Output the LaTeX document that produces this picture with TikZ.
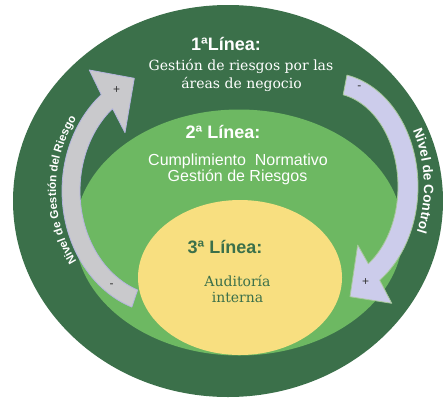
\documentclass[tikz,border=0pt]{standalone}
\usepackage{fontspec}
\setmainfont{DejaVu Serif}
\setsansfont{Liberation Sans}
\usetikzlibrary{decorations.text,shapes.geometric}
\definecolor{dkgreen}{HTML}{3B704A}
\definecolor{ltgreen}{HTML}{6DB862}
\definecolor{yel}{HTML}{F8DF80}
\definecolor{arrgray}{HTML}{C9C9CC}
\definecolor{arrgrayline}{HTML}{B4B4DE}
\definecolor{arrlav}{HTML}{CCCCEB}
\definecolor{arrlavline}{HTML}{A8C89C}
\definecolor{signc}{HTML}{333333}
\begin{document}
\begin{tikzpicture}[x=1pt,y=-1pt,
  oval/.style={ellipse, draw=none, inner sep=0pt},
  lbl/.style={inner sep=0pt, anchor=base},
  headf/.style={font=\sffamily\bfseries\fontsize{18}{20}\selectfont},
  serf/.style={font=\fontsize{14}{17}\selectfont},
  sansf/.style={font=\sffamily\fontsize{16}{18}\selectfont},
  sign/.style={font=\sffamily\fontsize{12}{12}\selectfont, text=signc, inner sep=0pt},
]
\useasboundingbox (0,0) rectangle (443,407);
% rings
\node[oval, fill=dkgreen, minimum width=430pt, minimum height=392pt] (outer) at (228,201) {};
\node[oval, fill=ltgreen, minimum width=328pt, minimum height=246pt] (middle) at (239,232.5) {};
\node[oval, fill=yel, minimum width=204pt, minimum height=155pt] (inner) at (240,277.5) {};
% left arrow (grey)
\filldraw[fill=arrgray, draw=arrgrayline, line width=0.8pt, line join=round]
  plot[domain=0:1, samples=60] ({166+104*cos(250.8-122.4*\x)}, {190.9-123*sin(250.8-122.4*\x)})
  -- (89.3,70) -- (134.3,78.3) -- (125,132.7)
  -- plot[domain=0:1, samples=60] ({166+86*cos(128.4+122.4*\x)}, {190.9-105*sin(128.4+122.4*\x)})
  -- cycle;
% right arrow (lavender)
\filldraw[fill=arrlav, draw=arrlavline, line width=0.8pt, line join=round]
  plot[domain=0:1, samples=60] ({330+88*cos(78.9-134.6*\x)}, {186.5-113.5*sin(78.9-134.6*\x)})
  -- (391.7,303.3) -- (350,296.7) -- (357.7,245)
  -- plot[domain=0:1, samples=60] ({330+68*cos(-55.7+134.6*\x)}, {186.5-93.5*sin(-55.7+134.6*\x)})
  -- cycle;
% curved labels
\path[decorate, decoration={text along path, text align=center,
  text={|\sffamily\bfseries\fontsize{11.5}{12}\selectfont\color{white}|Nivel de Gestión del Riesgo}}]
  plot[domain=0:1, samples=80] ({167+111*cos(240-120*\x)}, {190-124*sin(240-120*\x)});
\path[decorate, decoration={text along path, text align=center,
  text={|\sffamily\bfseries\fontsize{13.5}{14}\selectfont\color{white}|Nivel de Control}}]
  plot[domain=0:1, samples=80] ({330+94*cos(63-120*\x)}, {186.5-118*sin(63-120*\x)});
% signs
\node[sign] (lp) at (116.7,90) {+};
\node[sign] (lm) at (111.7,285.7) {-};
\node[sign] (rm) at (359.3,87.7) {-};
\node[sign] (rp) at (365.7,281.7) {+};
% texts
\node[lbl, headf, text=white] (t1) at (226,50) {1ªLínea:};
\node[lbl, serf, text=white] (t1a) at (241,70) {Gestión de riesgos por las};
\node[lbl, serf, text=white] (t1b) at (241.5,88) {áreas de negocio};
\node[lbl, headf, text=white] (t2) at (223,138.3) {2ª Línea:};
\node[lbl, sansf, text=white] (t2a) at (238,165) {Cumplimiento\ \ Normativo};
\node[lbl, sansf, text=white] (t2b) at (237.5,181.7) {Gestión de Riesgos};
\node[lbl, headf, text=dkgreen] (t3) at (225,253.3) {3ª Línea:};
\node[lbl, serf, text=dkgreen] (t3a) at (237.5,286.7) {Auditoría};
\node[lbl, serf, text=dkgreen] (t3b) at (237.5,302.7) {interna};
\end{tikzpicture}
\end{document}
